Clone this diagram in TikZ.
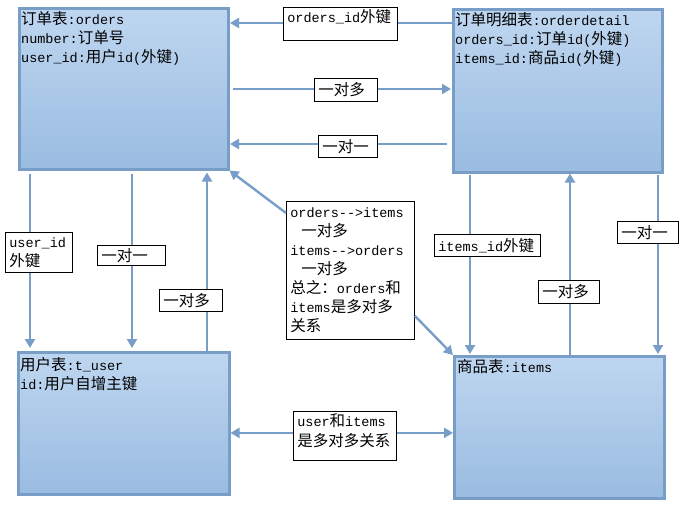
\documentclass[tikz,border=0pt]{standalone}
\usepackage{fontspec}
\newfontfamily\lat{Liberation Mono}[Scale=0.87]
\newfontfamily\zhfont{Noto Sans CJK SC}
\newcommand\zh[1]{{\zhfont #1}}
\usetikzlibrary{arrows.meta}
\definecolor{boxtop}{RGB}{190,214,240}
\definecolor{boxbot}{RGB}{154,188,225}
\definecolor{boxline}{RGB}{120,157,199}
\definecolor{arrowc}{RGB}{120,157,200}
\tikzset{
  tbl/.style={draw=boxline, line width=2.5pt, top color=boxtop, bottom color=boxbot, rectangle, anchor=north west, inner sep=0pt},
  tabtxt/.style={anchor=north west, align=left, inner sep=0pt},
  lbl/.style={draw=black, line width=0.75pt, fill=white, anchor=north west, align=left, inner xsep=4pt, inner ysep=2pt},
  arr/.style={draw=arrowc, line width=2.4pt, -{Triangle[length=9pt,width=10pt]}},
}
\begin{document}
\begin{tikzpicture}[x=1pt,y=-1pt,font=\lat\fontsize{15.5}{19}\selectfont]
\useasboundingbox (0,0) rectangle (685,504);
% tables
\node[tbl, minimum width=209pt, minimum height=161pt] (orders) at (18,7) {};
\node[tbl, minimum width=209pt, minimum height=163pt] (detail) at (452,8) {};
\node[tbl, minimum width=211pt, minimum height=142pt] (user) at (17,351) {};
\node[tbl, minimum width=210pt, minimum height=142pt] (items) at (453,355) {};
\node[tabtxt] (orderstxt) at (21,11) {\zh{订单表}:orders\\number:\zh{订单号}\\user\_id:\zh{用户}id(\zh{外键})};
\node[tabtxt] (detailtxt) at (455,12) {\zh{订单明细表}:orderdetail\\orders\_id:\zh{订单}id(\zh{外键})\\items\_id:\zh{商品}id(\zh{外键})};
\node[tabtxt] (usertxt) at (20,357) {\zh{用户表}:t\_user\\id:\zh{用户自增主键}};
\node[tabtxt] (itemstxt) at (457,359) {\zh{商品表}:items};
% arrows passing behind labels
\draw[arr, shorten >=0.5pt] (detail.west |- 0,23) -- (orders.east |- 0,23);
\draw[arr, shorten <=3pt, shorten >=1pt] (orders.east |- 0,89) -- (detail.west |- 0,89);
\draw[arr, shorten <=5pt, shorten >=0.5pt] (detail.west |- 0,144) -- (orders.east |- 0,144);
\draw[arr, shorten <=3pt, shorten >=3pt] (orders.south -| 30,0) -- (user.north -| 30,0);
\draw[arr, shorten <=3pt, shorten >=3pt] (orders.south -| 132,0) -- (user.north -| 132,0);
\draw[arr, shorten >=2pt] (user.north -| 207,0) -- (orders.south -| 207,0);
\draw[arr, shorten <=1pt, shorten >=1pt] (detail.south -| 470,0) -- (items.north -| 470,0);
\draw[arr] (items.north -| 570,0) -- (detail.south -| 570,0);
\draw[arr, shorten <=1pt, shorten >=1pt] (detail.south -| 658,0) -- (items.north -| 658,0);
% labels
\node[lbl, text width=106pt, text height=13pt, text depth=16pt] (L1) at (283,7) {orders\_id\zh{外键}};
\node[lbl, text width=55pt, minimum height=23pt] (L2) at (314,78) {\zh{一对多}};
\node[lbl, text width=51pt, minimum height=22pt] (L3) at (318,135) {\zh{一对一}};
\node[lbl, text width=59pt, minimum height=40pt] (L4) at (5,232) {user\_id\\\zh{外键}};
\node[lbl, text width=60pt, minimum height=20pt] (L5) at (97,245) {\zh{一对一}};
\node[lbl, text width=55pt, minimum height=22pt] (L6) at (159,289) {\zh{一对多}};
\node[lbl, text width=120pt, minimum height=138pt] (L7) at (286,201) {orders-\kern0pt-\kern0pt>items\\\hspace*{11pt}\zh{一对多}\\items-\kern0pt-\kern0pt>orders\\\hspace*{11pt}\zh{一对多}\\\zh{总之：}orders\zh{和}\\items\zh{是多对多}\\\zh{关系}};
\node[lbl, text width=98pt, minimum height=22pt] (L8) at (434,234) {items\_id\zh{外键}};
\node[lbl, text width=53pt, minimum height=23pt] (L9) at (538,280) {\zh{一对多}};
\node[lbl, text width=53pt, minimum height=22pt] (L10) at (617,221) {\zh{一对一}};
\node[lbl, text width=95pt, text height=13pt, text depth=32pt] (L11) at (293,411) {user\zh{和}items\\[1pt]\zh{是多对多关系}};
% arrows from labels
\coordinate (l11w) at ([yshift=3pt]L11.west);
\coordinate (l11e) at ([yshift=3pt]L11.east);
\draw[arr] ([yshift=-12pt]L7.north west) -- (orders.south east);
\draw[arr] ([yshift=24pt]L7.south east) -- (items.north west);
\draw[arr] (l11w) -- (user.east |- l11w);
\draw[arr] (l11e) -- (items.west |- l11e);
\end{tikzpicture}
\end{document}
